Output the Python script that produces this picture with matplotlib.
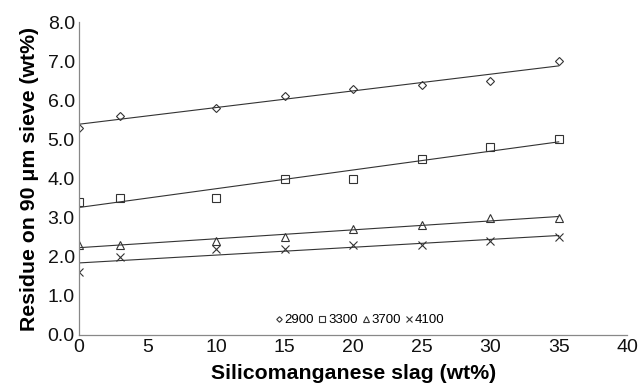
import matplotlib
matplotlib.use("Agg")
import matplotlib.pyplot as plt
import numpy as np

plt.rcParams['font.family'] = ['Liberation Sans', 'DejaVu Sans']

x = [0, 3, 10, 15, 20, 25, 30, 35]
s2900 = [5.3, 5.6, 5.8, 6.1, 6.3, 6.4, 6.5, 7.0]
s3300 = [3.4, 3.5, 3.5, 4.0, 4.0, 4.5, 4.8, 5.0]
s3700 = [2.3, 2.3, 2.4, 2.5, 2.7, 2.8, 3.0, 3.0]
s4100 = [1.6, 2.0, 2.2, 2.2, 2.3, 2.3, 2.4, 2.5]
labels = ['2900', '3300', '3700', '4100']
markers = ['D', 's', '^', 'x']
msizes = [4, 6, 6, 6]

fig = plt.figure(figsize=(6.42, 3.89), dpi=100)
ax = fig.add_axes([0.123, 0.139, 0.854, 0.804])

xa = np.array(x, dtype=float)
for ys, lab, m, ms in zip([s2900, s3300, s3700, s4100], labels, markers, msizes):
    ya = np.array(ys)
    if m == 'x':
        ax.plot(xa, ya, linestyle='none', marker=m, ms=ms, color='#333333', mew=0.8, label=lab)
    else:
        ax.plot(xa, ya, linestyle='none', marker=m, ms=ms, mfc='white', mec='#333333', mew=0.8, label=lab)
    k, b = np.polyfit(xa, ya, 1)
    xx = np.array([0, 35])
    ax.plot(xx, k * xx + b, color='#333333', lw=0.8)

ax.set_xlim(0, 40)
ax.set_ylim(0, 8)
ax.set_xticks(range(0, 41, 5))
ax.set_yticks(np.arange(0, 8.01, 1.0))
ax.set_yticklabels([f"{v:.1f}" for v in np.arange(0, 8.01, 1.0)])
ax.tick_params(length=0, labelsize=14, colors='#111111', pad=3)
for side in ['top', 'right']:
    ax.spines[side].set_visible(False)
for side in ['left', 'bottom']:
    ax.spines[side].set_color('#888888')
    ax.spines[side].set_linewidth(0.9)

ax.set_xlabel('Silicomanganese slag (wt%)', fontsize=15.3, fontweight='bold', labelpad=6)
ax.set_ylabel('Residue on 90 μm sieve (wt%)', fontsize=15.3, fontweight='bold', labelpad=6)

leg = ax.legend(loc='lower center', bbox_to_anchor=(0.512, -0.01), ncol=4, frameon=False,
                fontsize=9.5, handlelength=0.6, handletextpad=0.15, columnspacing=0.3,
                markerscale=0.7)

fig.savefig('out.png', dpi=100)
